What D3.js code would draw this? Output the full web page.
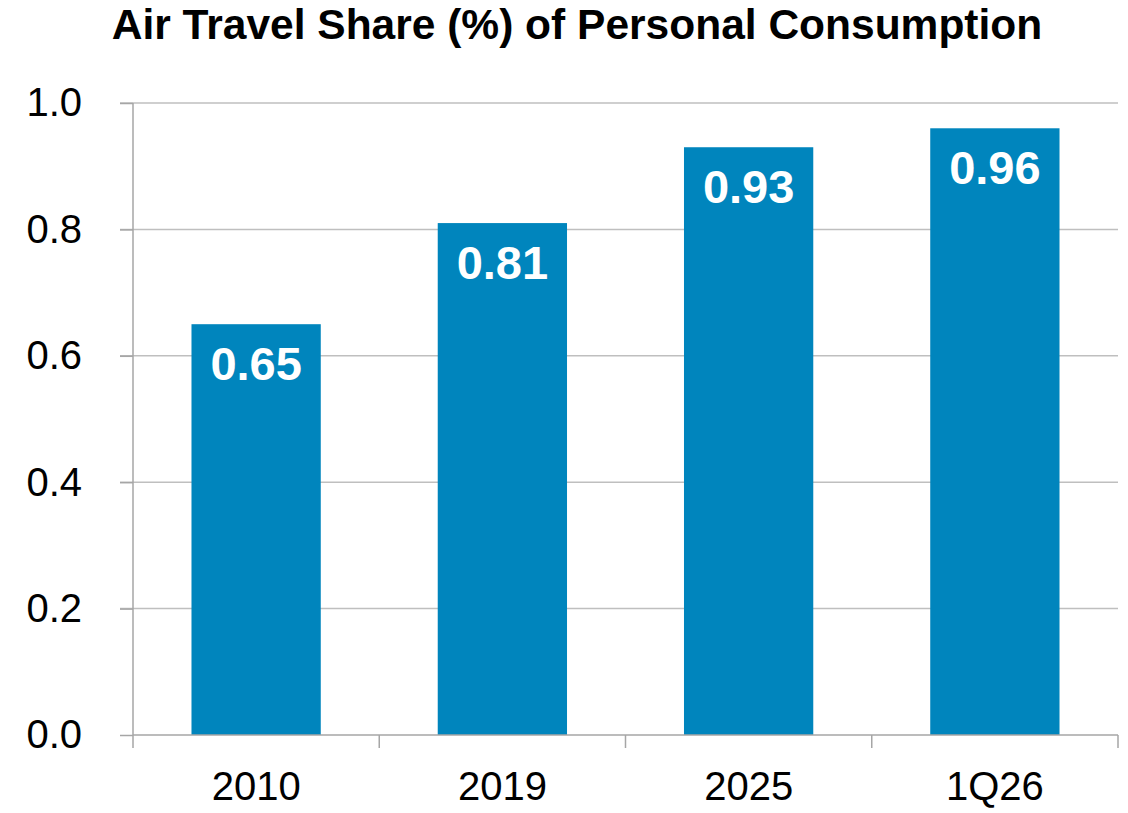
<!DOCTYPE html>
<html>
<head>
<meta charset="utf-8">
<script src="https://cdn.jsdelivr.net/npm/d3@7"></script>
<style>
  body { margin: 0; background: #fff; }
  svg { font-family: "Liberation Sans", Arial, sans-serif; }
</style>
</head>
<body>
<div id="chart"></div>
<script>
var categories = ["2010", "2019", "2025", "1Q26"];
var values = [0.65, 0.81, 0.93, 0.96];
var yTicks = [0, 0.2, 0.4, 0.6, 0.8, 1.0];
var title = "Air Travel Share (%) of Personal Consumption";

var W = 1128, H = 813;
var margin = {top: 103, right: 10, bottom: 78, left: 133},
  width = W - margin.left - margin.right,
  height = H - margin.top - margin.bottom;

var svg = d3.select("#chart")
  .append("svg")
  .attr("width", W)
  .attr("height", H);

svg.append("text")
  .attr("x", 577)
  .attr("y", 39)
  .attr("text-anchor", "middle")
  .style("font-size", "42.5px")
  .style("font-weight", "bold")
  .text(title);

var g = svg.append("g")
  .attr("transform", "translate(" + margin.left + "," + margin.top + ")");

var x = d3.scaleBand()
  .domain(categories)
  .range([0, width])
  .paddingInner(0.475)
  .paddingOuter(0.2375);

var y = d3.scaleLinear()
  .domain([0, 1])
  .range([height, 0]);

// gridlines
g.append("g")
  .selectAll("line")
  .data(yTicks.slice(1))
  .enter()
  .append("line")
  .attr("x1", -13)
  .attr("x2", width)
  .attr("y1", function(d) { return y(d); })
  .attr("y2", function(d) { return y(d); })
  .attr("stroke", "#bfbfbf")
  .attr("stroke-width", 1.5);

// bars
g.selectAll(".bar")
  .data(values)
  .enter()
  .append("rect")
  .attr("x", function(d, i) { return x(categories[i]); })
  .attr("y", function(d) { return y(d); })
  .attr("width", x.bandwidth())
  .attr("height", function(d) { return height - y(d); })
  .attr("fill", "#0085bd");

// value labels
g.selectAll(".lbl")
  .data(values)
  .enter()
  .append("text")
  .attr("x", function(d, i) { return x(categories[i]) + x.bandwidth() / 2; })
  .attr("y", function(d) { return y(d) + 56; })
  .attr("text-anchor", "middle")
  .attr("fill", "#fff")
  .style("font-size", "47px")
  .style("font-weight", "bold")
  .text(function(d) { return d.toFixed(2); });

// y axis
var yAxis = g.append("g")
  .call(d3.axisLeft(y).tickValues(yTicks).tickFormat(d3.format(".1f")).tickSize(13).tickPadding(38));
yAxis.selectAll("line").attr("stroke", "#a6a6a6").attr("stroke-width", 1.5);
yAxis.select(".domain").attr("stroke", "#a6a6a6").attr("stroke-width", 1.5).attr("d", "M0," + height + "V0");
yAxis.selectAll("text").style("font-size", "40px").attr("fill", "#000").style("font-family", "Liberation Sans, Arial, sans-serif");

// x axis
var xAxis = g.append("g")
  .attr("transform", "translate(0," + height + ")")
  .call(d3.axisBottom(x).tickSize(0).tickPadding(37));
xAxis.select(".domain").attr("stroke", "#a6a6a6").attr("stroke-width", 1.5).attr("d", "M0,0H" + width);
xAxis.selectAll("text").style("font-size", "40px").attr("fill", "#000").style("font-family", "Liberation Sans, Arial, sans-serif");

// category boundary ticks
var bounds = categories.map(function(c) { return x(c) - x.step() * x.paddingInner() / 2; });
bounds.push(width);
xAxis.selectAll(".sep")
  .data(bounds)
  .enter()
  .append("line")
  .attr("x1", function(d) { return d; })
  .attr("x2", function(d) { return d; })
  .attr("y1", 0)
  .attr("y2", 13)
  .attr("stroke", "#a6a6a6")
  .attr("stroke-width", 1.5);
</script>
</body>
</html>
